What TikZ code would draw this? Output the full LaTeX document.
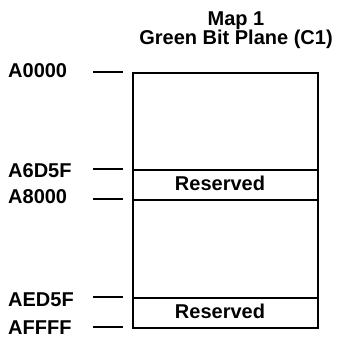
\documentclass[tikz,border=0pt]{standalone}
\usepackage{fontspec}
\setmainfont{Liberation Sans}
\begin{document}
\begin{tikzpicture}[x=1pt,y=-1pt,
  txt/.style={font=\fontsize{20}{22}\selectfont\bfseries, inner sep=0pt},
  addr/.style={txt, anchor=base west},
  region/.style={draw, line width=2pt, minimum width=185pt, inner sep=0pt, anchor=north west},
  tick/.style={line width=1.4pt}]
\useasboundingbox (0,0) rectangle (339,343);
% title
\node[txt, anchor=base] (t1) at (236,25) {Map 1};
\node[txt, anchor=base] (t2) at (236,44.5) {Green Bit Plane (C1)};
% regions
\node[region, minimum height=97pt] (r1) at (132,72) {};
\node[region, minimum height=30pt] (res1) at (132,169) {};
\node[region, minimum height=98pt] (r2) at (132,199) {};
\node[region, minimum height=30pt] (res2) at (132,297) {};
\node[txt, anchor=base] (l1) at (220,190.5) {Reserved};
\node[txt, anchor=base] (l2) at (220,318.5) {Reserved};
% address labels
\node[addr] (a1) at (8,77) {A0000};
\node[addr] (a2) at (8,177) {A6D5F};
\node[addr] (a3) at (8,203) {A8000};
\node[addr] (a4) at (8,306) {AED5F};
\node[addr] (a5) at (8,334) {AFFFF};
% ticks
\coordinate (k1a) at (93,72);  \coordinate (k1b) at (123,72);
\coordinate (k2a) at (93,169); \coordinate (k2b) at (123,169);
\coordinate (k3a) at (93,199); \coordinate (k3b) at (123,199);
\coordinate (k4a) at (93,297); \coordinate (k4b) at (123,297);
\coordinate (k5a) at (93,327); \coordinate (k5b) at (123,327);
\draw[tick] (k1a) -- (k1b);
\draw[tick] (k2a) -- (k2b);
\draw[tick] (k3a) -- (k3b);
\draw[tick] (k4a) -- (k4b);
\draw[tick] (k5a) -- (k5b);
\end{tikzpicture}
\end{document}
